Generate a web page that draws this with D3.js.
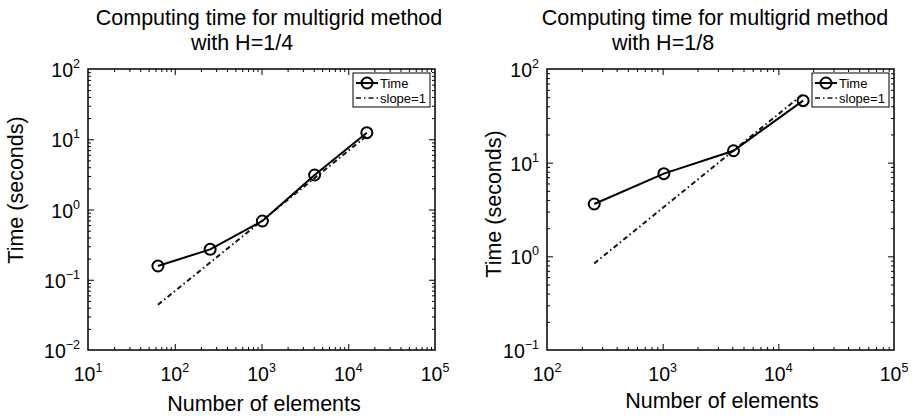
<!DOCTYPE html>
<html>
<head>
<meta charset="utf-8">
<script src="https://cdn.jsdelivr.net/npm/d3@7"></script>
<style>
  body { margin: 0; background: #fff; }
  text { font-family: "Liberation Sans", Arial, Helvetica, sans-serif; fill: #000; }
</style>
</head>
<body>
<div id="chart"></div>
<script>
// data
var leftElements = [64, 256, 1024, 4096, 16384];
var leftTime = [0.157, 0.271, 0.686, 3.10, 12.4];
var leftSlopeElements = [64, 16384];
var leftSlopeTime = [0.044, 11.2];
var leftXExp = [1, 2, 3, 4, 5];
var leftYExp = [-2, -1, 0, 1, 2];

var rightElements = [256, 1024, 4096, 16384];
var rightTime = [3.62, 7.63, 13.4, 45.9];
var rightSlopeElements = [256, 16384];
var rightSlopeTime = [0.84, 54];
var rightXExp = [2, 3, 4, 5];
var rightYExp = [-1, 0, 1, 2];

var titleLine1 = "Computing time for multigrid method";
var leftTitleLine2 = "with H=1/4";
var rightTitleLine2 = "with H=1/8";
var xLabel = "Number of elements";
var yLabel = "Time (seconds)";
var legendLabels = ["Time", "slope=1"];

var svg = d3.select("#chart").append("svg")
    .attr("width", 915)
    .attr("height", 419);

// one panel
function drawPanel(p) {
    var x = d3.scaleLog().domain([Math.pow(10, p.xExp[0]), Math.pow(10, p.xExp[p.xExp.length - 1])])
        .range([p.left, p.right]);
    var y = d3.scaleLog().domain([Math.pow(10, p.yExp[0]), Math.pow(10, p.yExp[p.yExp.length - 1])])
        .range([p.bottom, p.top]);
    var w = p.right - p.left, h = p.bottom - p.top;

    // minor ticks 2..9 in every decade
    var minorX = [], minorY = [];
    p.xExp.slice(0, -1).forEach(function(e) {
        for (var k = 2; k < 10; k++) minorX.push(k * Math.pow(10, e));
    });
    p.yExp.slice(0, -1).forEach(function(e) {
        for (var k = 2; k < 10; k++) minorY.push(k * Math.pow(10, e));
    });
    var majorX = p.xExp.map(function(e) { return Math.pow(10, e); });
    var majorY = p.yExp.map(function(e) { return Math.pow(10, e); });

    function tickAxis(axis, scale, vals, size, tr) {
        var g = svg.append("g")
            .attr("transform", tr)
            .call(axis(scale).tickValues(vals).tickSize(size).tickFormat(""));
        g.select(".domain").remove();
        g.selectAll("line").attr("stroke", "#000").attr("stroke-width", 1);
    }
    tickAxis(d3.axisBottom, x, majorX.slice(1, -1), -6, "translate(0," + p.bottom + ")");
    tickAxis(d3.axisBottom, x, minorX, -3, "translate(0," + p.bottom + ")");
    tickAxis(d3.axisTop, x, majorX.slice(1, -1), -6, "translate(0," + p.top + ")");
    tickAxis(d3.axisTop, x, minorX, -3, "translate(0," + p.top + ")");
    tickAxis(d3.axisLeft, y, majorY.slice(1, -1), -6, "translate(" + p.left + ",0)");
    tickAxis(d3.axisLeft, y, minorY, -3, "translate(" + p.left + ",0)");
    tickAxis(d3.axisRight, y, majorY.slice(1, -1), -6, "translate(" + p.right + ",0)");
    tickAxis(d3.axisRight, y, minorY, -3, "translate(" + p.right + ",0)");

    svg.append("rect")
        .attr("x", p.left).attr("y", p.top)
        .attr("width", w).attr("height", h)
        .attr("fill", "none").attr("stroke", "#000").attr("stroke-width", 1.5);

    // tick labels 10^n
    p.xExp.forEach(function(e) {
        var t = svg.append("text")
            .attr("x", x(Math.pow(10, e)))
            .attr("y", p.bottom + 31)
            .attr("text-anchor", "middle")
            .style("font-size", "19.5px");
        t.append("tspan").text("10");
        t.append("tspan").attr("dy", -9).style("font-size", "12.5px").text(String(e).replace("-", "\u2212"));
    });
    p.yExp.forEach(function(e) {
        var t = svg.append("text")
            .attr("x", p.left - 8)
            .attr("y", y(Math.pow(10, e)) + 8)
            .attr("text-anchor", "end")
            .style("font-size", "19.5px");
        t.append("tspan").text("10");
        t.append("tspan").attr("dy", -9).style("font-size", "12.5px").text(String(e).replace("-", "\u2212"));
    });

    // titles and labels
    svg.append("text").attr("x", p.title1X).attr("y", 25)
        .attr("text-anchor", "middle").style("font-size", "21.5px").text(titleLine1);
    svg.append("text").attr("x", p.title2X).attr("y", 50)
        .attr("text-anchor", "middle").style("font-size", "21.5px").text(p.title2);
    svg.append("text").attr("x", p.xLabelX).attr("y", p.xLabelY)
        .attr("text-anchor", "middle").style("font-size", "21.5px").text(xLabel);
    svg.append("text")
        .attr("transform", "translate(" + p.yLabelX + "," + p.yLabelY + ") rotate(-90)")
        .attr("text-anchor", "middle").style("font-size", "21.5px").text(yLabel);

    // slope=1 reference line
    var slope = p.slopeN.map(function(n, i) { return {n: n, t: p.slopeT[i]}; });
    var line = d3.line().x(function(d) { return x(d.n); }).y(function(d) { return y(d.t); });
    svg.append("path").datum(slope)
        .attr("d", line)
        .attr("fill", "none").attr("stroke", "#111").attr("stroke-width", 2)
        .attr("stroke-dasharray", "5,3,1.5,3");

    // measured times
    var pts = p.n.map(function(n, i) { return {n: n, t: p.t[i]}; });
    svg.append("path").datum(pts)
        .attr("d", line)
        .attr("fill", "none").attr("stroke", "#000").attr("stroke-width", 2);
    svg.selectAll(null).data(pts).enter().append("circle")
        .attr("cx", function(d) { return x(d.n); })
        .attr("cy", function(d) { return y(d.t); })
        .attr("r", 5.5)
        .attr("fill", "none").attr("stroke", "#000").attr("stroke-width", 2);

    // legend
    var lx = p.right - 82, ly = p.top + 4;
    var lg = svg.append("g").attr("transform", "translate(" + lx + "," + ly + ")");
    lg.append("rect").attr("width", 77).attr("height", 34)
        .attr("fill", "#fff").attr("stroke", "#000").attr("stroke-width", 1);
    lg.append("line").attr("x1", 3).attr("x2", 25).attr("y1", 10).attr("y2", 10)
        .attr("stroke", "#000").attr("stroke-width", 2);
    lg.append("circle").attr("cx", 14).attr("cy", 10).attr("r", 5.5)
        .attr("fill", "none").attr("stroke", "#000").attr("stroke-width", 2);
    lg.append("line").attr("x1", 3).attr("x2", 25).attr("y1", 25).attr("y2", 25)
        .attr("stroke", "#111").attr("stroke-width", 1.5).attr("stroke-dasharray", "5,3,1.5,3");
    lg.append("text").attr("x", 27).attr("y", 14.5).style("font-size", "13px").text(legendLabels[0]);
    lg.append("text").attr("x", 27).attr("y", 30).style("font-size", "13px").text(legendLabels[1]);
}

drawPanel({
    left: 88, right: 435, top: 69, bottom: 350,
    xExp: leftXExp, yExp: leftYExp,
    n: leftElements, t: leftTime, slopeN: leftSlopeElements, slopeT: leftSlopeTime,
    title1X: 269, title2X: 242, title2: leftTitleLine2,
    xLabelX: 264, xLabelY: 411, yLabelX: 23, yLabelY: 190
});
drawPanel({
    left: 547, right: 894, top: 69, bottom: 350,
    xExp: rightXExp, yExp: rightYExp,
    n: rightElements, t: rightTime, slopeN: rightSlopeElements, slopeT: rightSlopeTime,
    title1X: 715, title2X: 663, title2: rightTitleLine2,
    xLabelX: 722, xLabelY: 408, yLabelX: 501, yLabelY: 204
});
</script>
</body>
</html>
